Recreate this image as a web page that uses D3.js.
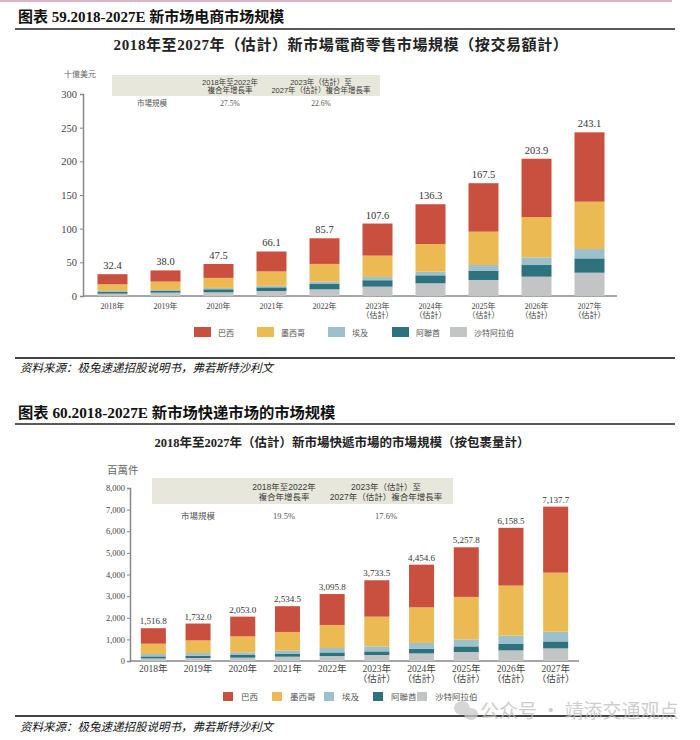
<!DOCTYPE html>
<html><head><meta charset="utf-8">
<script src="https://cdn.jsdelivr.net/npm/d3@7"></script>
<style>
html,body{margin:0;padding:0;background:#fff;}
svg{display:block;}
</style></head>
<body><svg id="c" width="700" height="740"></svg>
<script>
// ---------- data ----------
const years = ["2018年","2019年","2020年","2021年","2022年","2023年","2024年","2025年","2026年","2027年"];
const estimated = [false,false,false,false,false,true,true,true,true,true];
const countries = ["巴西","墨西哥","埃及","阿聯酋","沙特阿拉伯"];

// chart 1: e-commerce GMV (USD bn)
const ecTotals = [32.4,38.0,47.5,66.1,85.7,107.6,136.3,167.5,203.9,243.1];
const ecBrazil = [15.0,16.6,20.6,29.6,38.1,47.6,59.1,71.9,86.6,103.0];
const ecMexico = [9.9,12.4,14.9,21.3,26.3,31.7,41.1,49.5,59.9,70.3];
const ecEgypt  = [1.5,1.5,2.0,2.4,3.5,4.9,5.4,8.4,11.4,13.9];
const ecUAE    = [2.5,2.5,4.5,5.4,7.9,9.5,11.9,13.9,17.3,21.3];
const ecSaudi  = [3.5,5.0,5.5,7.4,9.9,13.9,18.8,23.8,28.7,34.6];
const ecTicks = [0,50,100,150,200,250,300];

// chart 2: express parcels (million)
const exTotals = [1516.8,1732.0,2053.0,2534.5,3095.8,3733.5,4454.6,5257.8,6158.5,7137.7];
const exBrazil = [716.8,779.0,914.0,1191.5,1428.8,1682.5,1972.6,2294.8,2672.5,3050.7];
const exMexico = [477,583,741,866,1065,1375,1648,1963,2315,2731];
const exEgypt  = [110,125,120,153,204,231,264,324,384,449];
const exUAE    = [93,106,125,125,167,167,218,259,296,324];
const exSaudi  = [120,139,153,199,231,278,352,417,491,583];
const exTicks = [0,1000,2000,3000,4000,5000,6000,7000,8000];

const colors = ["#c9503f","#ebba52","#9cc1cd","#2e727d","#c3c4c6"];

// ---------- drawing ----------
const svg = d3.select("#c");
svg.append("rect").attr("width",700).attr("height",740).attr("fill","#fff");

const SERIF = "'Liberation Serif','DejaVu Serif','Noto Sans CJK SC',serif";
const CJKS = "'Liberation Serif','Noto Sans CJK SC',serif";
const CJKT = "'Liberation Serif','Noto Sans CJK TC',serif";
const SANS_T = "'Liberation Sans','Noto Sans CJK TC',sans-serif";

// top pink line
svg.append("line").attr("x1",0).attr("x2",672).attr("y1",1).attr("y2",1)
  .attr("stroke","#dcb3c4").attr("stroke-width",2);

function sectionHeader(title, y, lineY, size){
  svg.append("text").attr("x",18).attr("y",y).text(title)
    .attr("font-family",CJKS).attr("font-weight","bold").attr("font-size",size).attr("fill","#111");
  svg.append("line").attr("x1",15).attr("x2",675).attr("y1",lineY).attr("y2",lineY)
    .attr("stroke","#222").attr("stroke-width",1.5);
}
function source(y){
  svg.append("text").attr("x",20).attr("y",y).text("资料来源：极兔速递招股说明书，弗若斯特沙利文")
    .attr("font-family",CJKS).attr("font-style","italic").attr("font-size",11.5).attr("fill","#111");
}

function drawChart(cfg){
  const g = svg.append("g");
  const stackData = years.map((y,i)=>({year:y, "巴西":cfg.series[0][i], "墨西哥":cfg.series[1][i], "埃及":cfg.series[2][i], "阿聯酋":cfg.series[3][i], "沙特阿拉伯":cfg.series[4][i]}));
  const order = ["沙特阿拉伯","阿聯酋","埃及","墨西哥","巴西"];
  const stacked = d3.stack().keys(order)(stackData);
  const x = d3.scaleBand().domain(years).range(cfg.xRange).paddingInner(cfg.padIn).paddingOuter(cfg.padIn/2);
  const y = d3.scaleLinear().domain([0,cfg.max]).range(cfg.yRange);
  const colorOf = k => colors[countries.indexOf(k)];

  // title
  g.append("text").attr("x",cfg.titleX).attr("y",cfg.titleY).attr("text-anchor","middle")
    .text(cfg.title).attr("font-family",CJKT).attr("font-weight","bold")
    .attr("font-size",cfg.titleSize).attr("fill","#222").attr("letter-spacing",cfg.titleLS);

  // unit
  g.append("text").attr("x",cfg.unitX).attr("y",cfg.unitY).text(cfg.unit)
    .attr("font-family",CJKS).attr("font-size",cfg.unitSize).attr("fill","#666");

  // CAGR table
  const t = cfg.table;
  g.append("rect").attr("x",t.x).attr("y",t.y).attr("width",t.w).attr("height",t.h).attr("fill","#e8e7dc");
  const hdr = [[t.c1,["2018年至2022年","複合年增長率"]],[t.c2,["2023年（估計）至","2027年（估計）複合年增長率"]]];
  hdr.forEach(([cx,lines])=>{
    lines.forEach((s,j)=>{
      g.append("text").attr("x",cx).attr("y",t.l1+j*t.lh).attr("text-anchor","middle").text(s)
        .attr("font-family",SANS_T).attr("font-size",t.fs).attr("fill","#3a3a3a");
    });
  });
  [[t.c0,"市場規模"],[t.c1,cfg.cagr[0]],[t.c2,cfg.cagr[1]]].forEach(([cx,s])=>{
    g.append("text").attr("x",cx).attr("y",t.row).attr("text-anchor","middle").text(s)
      .attr("font-family",CJKT).attr("font-size",t.fs).attr("fill","#555");
  });

  // y axis
  const ya = d3.axisLeft(y).tickValues(cfg.ticks).tickSize(3).tickPadding(cfg.tickPad).tickFormat(cfg.tickFmt);
  const ag = g.append("g").attr("transform",`translate(${cfg.axisX},0)`).call(ya);
  ag.select(".domain").attr("stroke","#888").attr("stroke-width",1.5);
  ag.selectAll(".tick line").attr("stroke","#888");
  ag.selectAll(".tick text").attr("font-family",SERIF).attr("font-size",cfg.tickSize).attr("fill","#444");

  // baseline
  g.append("line").attr("x1",cfg.axisX).attr("x2",cfg.baseEnd).attr("y1",y(0)).attr("y2",y(0))
    .attr("stroke","#888").attr("stroke-width",1.5);

  // bars
  stacked.forEach(layer=>{
    g.append("g").attr("fill",colorOf(layer.key)).selectAll("rect").data(layer).join("rect")
      .attr("x",d=>x(d.data.year)).attr("width",x.bandwidth())
      .attr("y",d=>y(d[1])).attr("height",d=>y(d[0])-y(d[1]));
  });

  // value labels
  g.selectAll(".vl").data(cfg.totals).join("text")
    .attr("x",(d,i)=>x(years[i])+x.bandwidth()/2).attr("y",d=>y(d)-cfg.valOff)
    .attr("text-anchor","middle").text(cfg.valFmt).attr("font-family",SERIF)
    .attr("font-size",cfg.valSize).attr("fill","#333");

  // x labels
  years.forEach((yr,i)=>{
    const cx = x(yr)+x.bandwidth()/2;
    g.append("text").attr("x",cx).attr("y",cfg.xl1).attr("text-anchor","middle").text(yr)
      .attr("font-family",CJKT).attr("font-size",cfg.xlSize).attr("fill","#444");
    if(estimated[i]) g.append("text").attr("x",cx).attr("y",cfg.xl2).attr("text-anchor","middle").text("（估計）")
      .attr("font-family",CJKT).attr("font-size",cfg.xlSize).attr("fill","#444");
  });

  // legend
  countries.forEach((c,i)=>{
    const L = cfg.legend;
    g.append("rect").attr("x",L.xs[i]).attr("y",L.y).attr("width",L.sw).attr("height",L.sh).attr("fill",colors[i]);
    g.append("text").attr("x",L.xs[i]+L.sw+L.gap).attr("y",L.y+L.sh-1).text(c)
      .attr("font-family",CJKT).attr("font-size",L.fs).attr("fill","#555");
  });
}

sectionHeader("图表 59.2018-2027E 新市场电商市场规模", 22, 29, 15);

drawChart({
  title:"2018年至2027年（估計）新市場電商零售市場規模（按交易額計）", titleX:341, titleY:50, titleSize:15, titleLS:0.6,
  unit:"十億美元", unitX:64, unitY:77, unitSize:8,
  table:{x:112,y:75,w:268,h:21,c0:152,c1:230,c2:321,l1:85,lh:8,row:106,fs:7.5},
  cagr:["27.5%","22.6%"],
  series:[ecBrazil,ecMexico,ecEgypt,ecUAE,ecSaudi], totals:ecTotals,
  max:300, ticks:ecTicks, tickFmt:d3.format("d"), tickSize:10.5, tickPad:3,
  xRange:[86,616], padIn:0.434, yRange:[296,94], axisX:83, baseEnd:617,
  valFmt:d=>d3.format(".1f")(d), valSize:10.5, valOff:5,
  xl1:309, xl2:318, xlSize:8,
  legend:{xs:[194,257,328,392,450], y:327, sw:17, sh:10, gap:7, fs:8}
});

svg.append("line").attr("x1",15).attr("x2",675).attr("y1",358).attr("y2",358)
  .attr("stroke","#444").attr("stroke-width",2);
source(372);

sectionHeader("图表 60.2018-2027E 新市场快递市场的市场规模", 418, 424, 15.3);

drawChart({
  title:"2018年至2027年（估計）新市場快遞市場的市場規模（按包裹量計）", titleX:342, titleY:447, titleSize:12.5, titleLS:0,
  unit:"百萬件", unitX:107, unitY:474, unitSize:10.5,
  table:{x:152,y:478,w:301,h:26,c0:198,c1:284,c2:386,l1:490,lh:9.5,row:519,fs:8.5},
  cagr:["19.5%","17.6%"],
  series:[exBrazil,exMexico,exEgypt,exUAE,exSaudi], totals:exTotals,
  max:8000, ticks:exTicks, tickFmt:d3.format(","), tickSize:8.5, tickPad:2,
  xRange:[131,578], padIn:0.44, yRange:[661,488], axisX:130, baseEnd:579,
  valFmt:d=>d3.format(",.1f")(d), valSize:9, valOff:4,
  xl1:672, xl2:682, xlSize:9.5,
  legend:{xs:[223,272,324,373,417], y:692, sw:10, sh:9, gap:8, fs:8.5}
});

svg.append("line").attr("x1",15).attr("x2",675).attr("y1",716).attr("y2",716)
  .attr("stroke","#444").attr("stroke-width",2);
source(731);

// watermark
const wm = svg.append("g").attr("opacity",0.75);
wm.append("ellipse").attr("cx",462).attr("cy",708).attr("rx",8).attr("ry",7).attr("fill","#c9c9c9");
wm.append("ellipse").attr("cx",471).attr("cy",714).attr("rx",7).attr("ry",6).attr("fill","#c9c9c9");
wm.append("text").attr("x",480).attr("y",718).text("公众号 · 靖添交通观点")
  .attr("font-family","'Noto Sans CJK SC',sans-serif").attr("font-size",19).attr("fill","#bdbdbd");
</script>
</body></html>
